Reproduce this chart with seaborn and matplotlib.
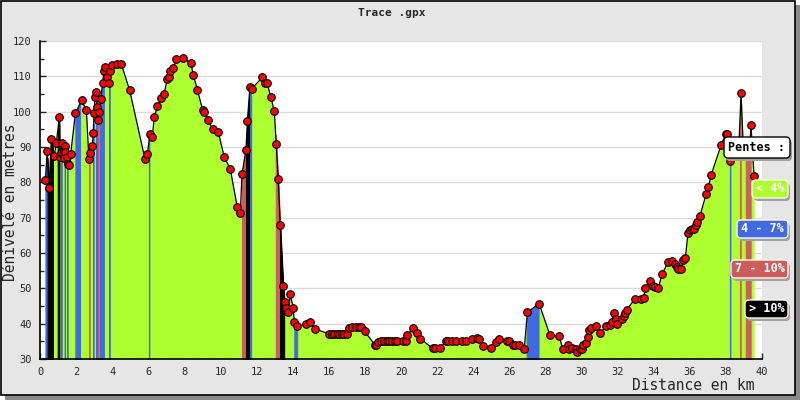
import numpy as np
import matplotlib
matplotlib.use("Agg")
import matplotlib.pyplot as plt
from matplotlib.patches import Rectangle, FancyBboxPatch
from matplotlib.transforms import IdentityTransform
from matplotlib.ticker import MultipleLocator
import seaborn as sns

# profil : distance (km) / altitude (m)
distance = [
    0.30, 0.40, 0.50, 0.63, 0.79, 0.90, 1.07, 1.12, 1.18, 1.22, 1.29, 1.33, 1.37, 1.40,
    1.48, 1.57, 1.63, 1.70, 1.96, 2.30, 2.57, 2.71, 2.78, 2.90, 2.95, 2.99, 3.05, 3.10,
    3.17, 3.23, 3.29, 3.36, 3.47, 3.55, 3.61, 3.69, 3.80, 3.90, 3.99, 4.28, 4.51, 4.97,
    5.82, 5.95, 6.09, 6.22, 6.33, 6.50, 6.72, 6.88, 7.05, 7.13, 7.20, 7.39, 7.56, 7.94,
    8.35, 8.50, 8.72, 9.01, 9.09, 9.33, 9.57, 9.88, 10.21, 10.54, 10.93, 11.10, 11.19,
    11.41, 11.49, 11.63, 11.73, 12.32, 12.48, 12.59, 12.78, 12.98, 13.09, 13.20, 13.31,
    13.48, 13.57, 13.62, 13.76, 13.87, 14.03, 14.09, 14.26, 14.74, 14.96, 15.24, 16.03,
    16.17, 16.31, 16.45, 16.58, 16.72, 16.86, 16.99, 17.14, 17.29, 17.48, 17.66, 17.78,
    17.99, 18.56, 18.62, 18.71, 18.89, 19.06, 19.20, 19.35, 19.50, 19.65, 19.80, 20.13,
    20.28, 20.33, 20.68, 20.89, 21.07, 21.75, 21.90, 22.15, 22.48, 22.63, 22.81, 23.03,
    23.36, 23.60, 23.92, 24.23, 24.34, 24.56, 25.00, 25.25, 25.45, 25.89, 26.00, 26.19,
    26.34, 26.55, 26.83, 27.00, 27.65, 28.25, 28.77, 28.96, 29.25, 29.31, 29.49, 29.67,
    29.77, 29.89, 30.00, 30.10, 30.25, 30.34, 30.43, 30.51, 30.78, 31.02, 31.36, 31.58,
    31.67, 31.82, 31.91, 31.95, 32.25, 32.33, 32.42, 32.50, 32.96, 33.32, 33.44, 33.54,
    33.80, 33.98, 34.07, 34.25, 34.47, 34.81, 35.03, 35.18, 35.27, 35.36, 35.50, 35.64,
    35.75, 35.90, 36.01, 36.14, 36.25, 36.34, 36.42, 36.57, 36.90, 37.03, 37.19, 37.73,
    37.99, 38.08, 38.23, 38.70, 38.84, 38.98, 39.30, 39.39, 39.56,
]
elevation = [
    80.7, 89.0, 78.3, 92.2, 87.5, 91.0, 98.4, 87.1, 88.4, 91.2, 88.0, 86.8, 90.3, 88.7,
    87.1, 85.2, 85.0, 88.0, 99.5, 103.2, 100.4, 86.5, 88.4, 90.3, 93.9, 99.5, 104.1, 105.5,
    101.4, 97.6, 99.8, 103.5, 108.2, 111.5, 112.6, 109.9, 108.0, 111.4, 113.2, 113.4, 113.4, 106.0,
    86.5, 88.0, 93.7, 92.8, 98.4, 101.5, 103.8, 105.1, 109.3, 109.8, 111.6, 112.3, 114.8, 115.2,
    113.7, 110.4, 106.1, 100.5, 100.0, 97.6, 95.0, 94.2, 87.1, 83.8, 73.0, 71.2, 82.3,
    89.2, 97.4, 107.1, 106.5, 109.7, 108.0, 108.0, 104.2, 100.2, 90.8, 80.9, 67.9,
    50.7, 46.2, 44.4, 43.3, 48.3, 44.4, 40.4, 39.3, 39.8, 40.5, 38.5, 37.1,
    37.1, 37.1, 37.1, 37.1, 37.1, 37.1, 37.1, 38.9, 39.1, 39.1, 39.1, 39.1,
    37.8, 34.0, 34.0, 34.7, 35.0, 35.0, 35.0, 35.0, 35.0, 35.0, 35.0, 35.0,
    35.0, 36.8, 38.7, 37.4, 35.8, 33.0, 33.0, 33.0, 35.0, 35.2, 35.1, 35.0,
    35.0, 35.0, 35.6, 35.9, 35.8, 33.6, 33.2, 34.9, 35.6, 35.0, 35.0, 34.0,
    34.0, 34.0, 32.8, 43.2, 45.7, 36.8, 36.5, 32.7, 34.0, 32.7, 33.2, 32.7,
    32.0, 32.7, 32.7, 34.0, 34.6, 36.1, 38.2, 38.7, 39.4, 37.4, 39.2, 39.5,
    40.5, 42.9, 41.2, 39.9, 41.2, 42.3, 42.9, 43.9, 47.0, 47.0, 47.4, 50.0,
    52.1, 50.7, 50.5, 50.0, 54.1, 57.5, 57.8, 56.9, 56.1, 55.4, 55.4, 57.9,
    58.5, 65.6, 66.5, 66.7, 66.7, 67.9, 68.7, 70.6, 76.6, 78.7, 82.2, 90.5,
    93.6, 93.6, 86.0, 88.0, 105.2, 88.0, 88.0, 96.1, 81.9,
]

# troncons de pente forte (debut km, fin km, classe)
band_start = [0.30, 0.42, 0.98, 1.17, 1.36, 1.50, 1.96, 2.72, 2.94, 3.10, 3.22, 3.32, 3.50,
              3.83, 6.03, 11.19, 11.41, 11.63, 13.06, 13.30, 14.09, 26.96, 38.22, 38.78, 39.10]
band_end = [0.40, 0.72, 1.08, 1.20, 1.39, 1.53, 2.22, 2.75, 2.97, 3.16, 3.25, 3.44, 3.53,
            3.86, 6.06, 11.41, 11.63, 11.70, 13.30, 13.53, 14.25, 27.62, 38.25, 38.82, 39.37]
band_pente = [1, 3, 3, 1, 1, 1, 1, 2, 1, 1, 2, 1, 1,
              1, 1, 2, 3, 1, 2, 3, 1, 1, 1, 2, 2]

pente_labels = ["< 4%", "4 - 7%", "7 - 10%", "> 10%"]
pente_colors = ["#adff2f", "#4169e1", "#cd5c5c", "#000000"]

sns.set_style("white")
plt.rcParams["font.family"] = ["DejaVu Sans Mono", "DejaVu Sans"]

fig = plt.figure(figsize=(8, 4), dpi=100, facecolor="white")

# cadre gris avec ombre
fig.patches.append(Rectangle((5 / 800, 0), 795 / 800, 395 / 400, transform=fig.transFigure,
                             fc="#8a8a8a", ec="none", zorder=-10))
fig.patches.append(Rectangle((0.6 / 800, 5 / 400), 794 / 800, 394.4 / 400, transform=fig.transFigure,
                             fc="#e6e6e6", ec="black", lw=1.2, zorder=-9))

ax = fig.add_axes([40 / 800, 1 - 359 / 400, 722 / 800, 318 / 400])
ax.set_facecolor("white")

dist = np.array(distance)
elev = np.array(elevation)

# remplissage de base puis troncons colores
ax.fill_between(dist, elev, 30, color=pente_colors[0], lw=0, zorder=1)
for s, e, p in zip(band_start, band_end, band_pente):
    xs = np.array([s] + [d for d in distance if s < d < e] + [e])
    ys = np.interp(xs, dist, elev)
    ax.fill_between(xs, ys, 30, color=pente_colors[p], ec=pente_colors[p], lw=0.7, zorder=2)

sns.lineplot(x=dist, y=elev, estimator=None, sort=False, color="black", lw=0.9, ax=ax, zorder=3)
sns.scatterplot(x=dist, y=elev, color="red", edgecolor="black", s=30, linewidth=0.8,
                ax=ax, zorder=4, clip_on=False)

ax.set_xlim(0, 40)
ax.set_ylim(30, 120)
ax.xaxis.set_major_locator(MultipleLocator(2))
ax.xaxis.set_minor_locator(MultipleLocator(1))
ax.yaxis.set_major_locator(MultipleLocator(10))
ax.yaxis.set_minor_locator(MultipleLocator(5))
ax.tick_params(which="major", direction="in", length=4.5, width=1, pad=6, labelsize=7.5,
               left=True, bottom=True)
ax.tick_params(which="minor", direction="in", length=3, width=1, left=True, bottom=True)
ax.yaxis.grid(True, color="#dcdcdc", lw=1)
ax.set_axisbelow(True)
for side in ["top", "right"]:
    ax.spines[side].set_visible(False)
for side in ["left", "bottom"]:
    ax.spines[side].set_color("black")
    ax.spines[side].set_linewidth(1.2)
ax.set_xlabel("")
ax.set_ylabel("")

fig.text(392 / 800, 1 - 13 / 400, "Trace .gpx", ha="center", va="center", fontsize=8, fontweight="bold")
fig.text(11 / 800, 1 - 202 / 400, "Dénivelé en metres", rotation=90, ha="center", va="center", fontsize=10.5)
fig.text(755 / 800, 1 - 385 / 400, "Distance en km", ha="right", va="center", fontsize=10.5)


# legende des pentes : boites en pixels (x0, x1, y haut, y bas) comptes depuis le haut
def boite(x0, x1, y0, y1, txt, fc, tc, ec):
    h = y1 - y0
    for dx, dy, f, e in [(2, 3, "#a0a0a0", "none"), (0, 0, fc, ec)]:
        fig.patches.append(FancyBboxPatch((x0 + dx, 400 - y1 - dy), x1 - x0, h,
                                          boxstyle="round,pad=0,rounding_size=4",
                                          transform=IdentityTransform(), fc=f, ec=e, lw=1,
                                          zorder=5))
    fig.text((x0 + x1) / 2 / 800, 1 - (y0 + y1) / 2 / 400, txt, ha="center", va="center",
             fontsize=8.5, fontweight="bold", color=tc, zorder=6)


boite(724, 790, 137, 158, "Pentes :", "white", "black", "black")
legend_x0 = [752, 737, 731, 745]
legend_y0 = [180, 220, 260, 300]
for lab, col, lx, ly in zip(pente_labels, pente_colors, legend_x0, legend_y0):
    boite(lx, 788, ly, ly + 18, lab, col, "white", "#fffbe6")

fig.savefig("out.png", dpi=100, facecolor=fig.get_facecolor())
